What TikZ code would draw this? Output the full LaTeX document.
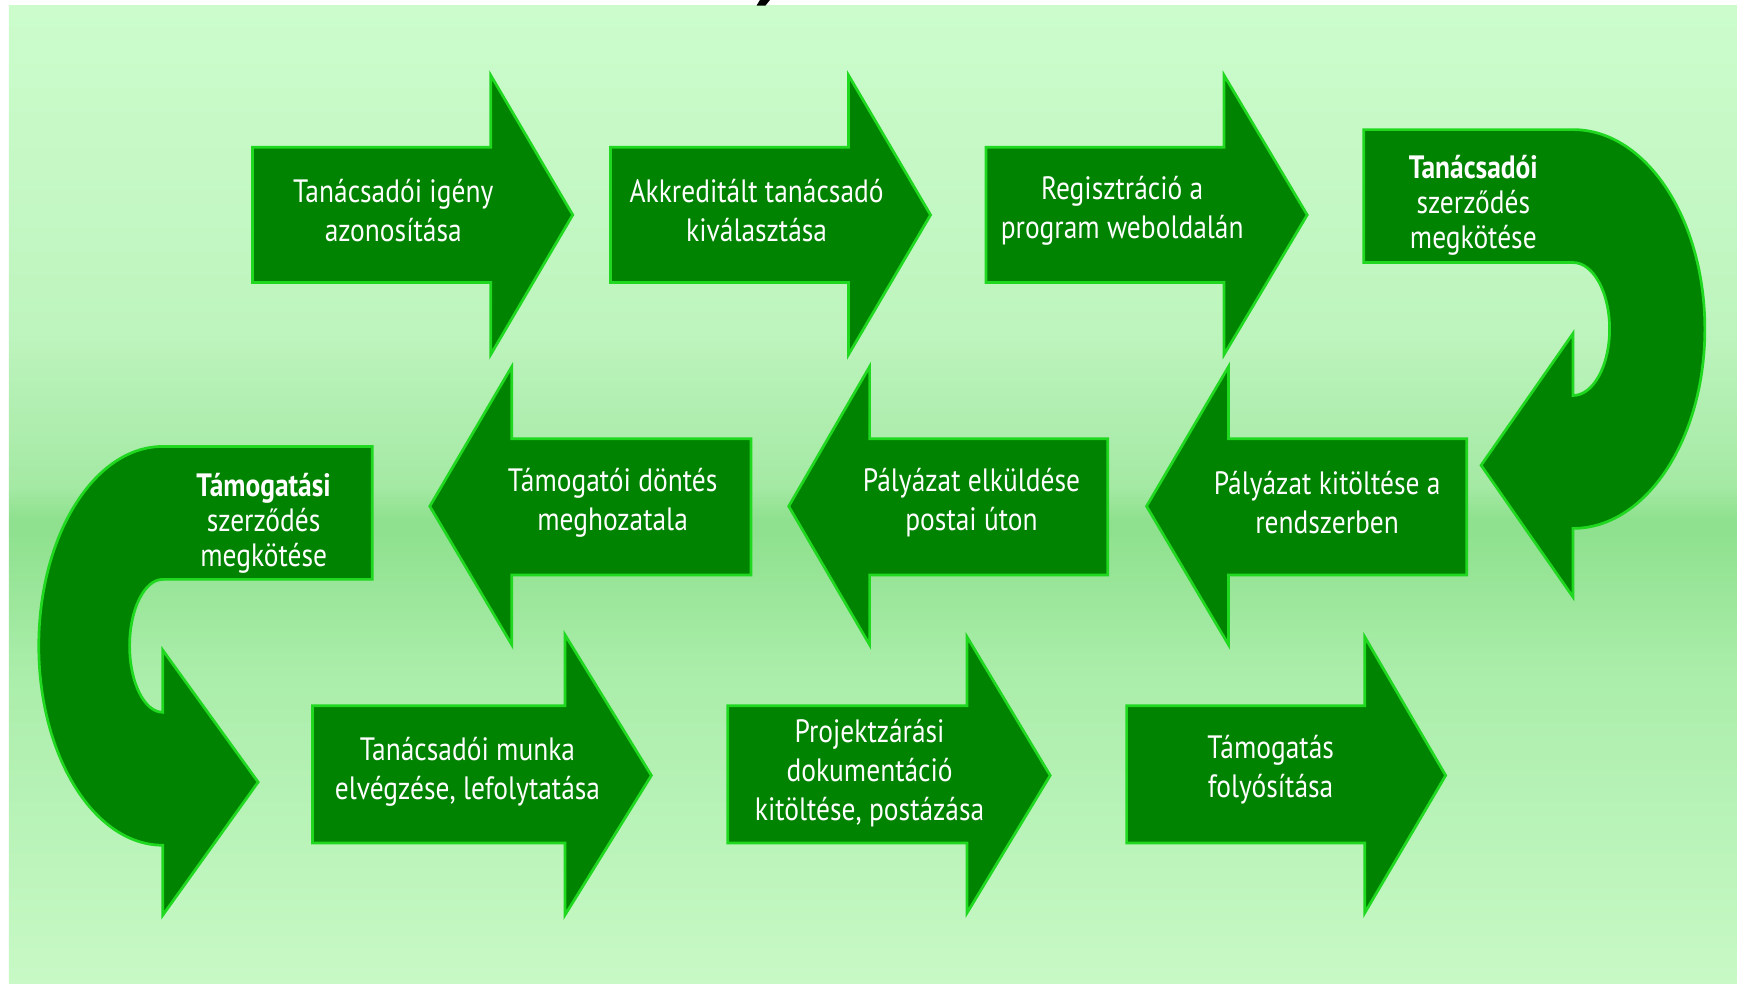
\documentclass[tikz,border=0pt]{standalone}
\usepackage{fontspec}
\setmainfont[FakeStretch=0.85]{PT Sans}
\usepackage{tikz}

\definecolor{arrowgreen}{HTML}{008300}
\definecolor{edgegreen}{HTML}{1FD81F}
\definecolor{bgtop}{HTML}{CCFCCC}
\definecolor{bghigh}{HTML}{BEF4BE}
\definecolor{bgmid}{HTML}{A4E9A4}
\definecolor{bgband}{HTML}{8FE18F}
\definecolor{bglow}{HTML}{AAEDAA}
\definecolor{bgbottom}{HTML}{C8F9C6}

\pgfdeclareverticalshading{bgshade}{100bp}{color(0bp)=(bgbottom); color(25bp)=(bgbottom);
  color(41bp)=(bglow); color(48bp)=(bgband); color(48.8bp)=(bgband); color(50.4bp)=(bgmid);
  color(58.3bp)=(bghigh); color(75bp)=(bgtop); color(100bp)=(bgtop)}

\begin{document}
\begin{tikzpicture}[x=0.1mm, y=-0.1mm,
	flowarrow/.style={fill=arrowgreen, draw=edgegreen, line width=0.7pt, line join=miter},
	steptext/.style={text=white, align=center, font=\fontsize{8.3}{10}\selectfont},
	turntext/.style={text=white, align=center, font=\fontsize{8.3}{9}\selectfont}]

			% background
			\fill[white] (0,0) rectangle (1568,888);
			\shade[shading=bgshade] (8,5) rectangle (1568,888);
			\useasboundingbox (0,0) rectangle (1568,888);
			\fill[black] (686,0) -- (695,0) -- (691,5) -- (683,5) -- cycle;

			% first row
			\draw[flowarrow] (228,133) -- (443,133) -- (443,68) -- (517,194) -- (443,320) -- (443,255) -- (228,255) -- cycle;
			\draw[flowarrow] (551,133) -- (766,133) -- (766,68) -- (840,194) -- (766,320) -- (766,255) -- (551,255) -- cycle;
			\draw[flowarrow] (890,133) -- (1105,133) -- (1105,68) -- (1180,194) -- (1105,320) -- (1105,255) -- (890,255) -- cycle;

			\node[steptext] (igeny) at (355,190) {Tanácsadói igény\\azonosítása};
			\node[steptext] (akkred) at (683,190) {Akkreditált tanácsadó\\kiválasztása};
			\node[steptext] (regiszt) at (1013,190) {Regisztráció a\\program weboldalán};

			% turn on the right
			\draw[flowarrow] (1231,117) -- (1420,117) arc[start angle=-90, end angle=90, x radius=119, y radius=180]
				-- (1420,539) -- (1337,420) -- (1420,301) -- (1420,357)
				arc[start angle=90, end angle=-90, x radius=33, y radius=60] -- (1231,237) -- cycle;

			\node[turntext] (tszerz) at (1330,185) {\textbf{Tanácsadói}\\szerződés\\megkötése};

			% second row
			\draw[flowarrow] (1324,396) -- (1109,396) -- (1109,331) -- (1035,457) -- (1109,582) -- (1109,519) -- (1324,519) -- cycle;
			\draw[flowarrow] (1000,396) -- (785,396) -- (785,331) -- (712,457) -- (785,582) -- (785,519) -- (1000,519) -- cycle;
			\draw[flowarrow] (678,396) -- (462,396) -- (462,331) -- (388,457) -- (462,582) -- (462,519) -- (678,519) -- cycle;

			\node[steptext] (kitolt) at (1198,454) {Pályázat kitöltése a\\rendszerben};
			\node[steptext] (elkuld) at (877,454) {Pályázat elküldése\\postai úton};
			\node[steptext] (dontes) at (553,454) {Támogatói döntés\\meghozatala};

			% turn on the left
			\draw[flowarrow] (336,403) -- (147,403) arc[start angle=270, end angle=90, x radius=112, y radius=180]
				-- (147,826) -- (233,706) -- (147,587) -- (147,643)
				arc[start angle=90, end angle=270, x radius=30, y radius=60] -- (336,523) -- cycle;

			\node[turntext] (tamszerz) at (238,472) {\textbf{Támogatási}\\szerződés\\megkötése};

			% third row
			\draw[flowarrow] (282,637) -- (510,637) -- (510,573) -- (588,700) -- (510,826) -- (510,761) -- (282,761) -- cycle;
			\draw[flowarrow] (657,637) -- (873,637) -- (873,575) -- (948,700) -- (873,824) -- (873,761) -- (657,761) -- cycle;
			\draw[flowarrow] (1017,637) -- (1232,637) -- (1232,575) -- (1305,700) -- (1232,824) -- (1232,761) -- (1017,761) -- cycle;

			\node[steptext] (munka) at (422,697) {Tanácsadói munka\\elvégzése, lefolytatása};
			\node[steptext] (zaras) at (785,698) {Projektzárási\\dokumentáció\\kitöltése, postázása};
			\node[steptext] (folyos) at (1147,695) {Támogatás\\folyósítása};

		\end{tikzpicture}
\end{document}
